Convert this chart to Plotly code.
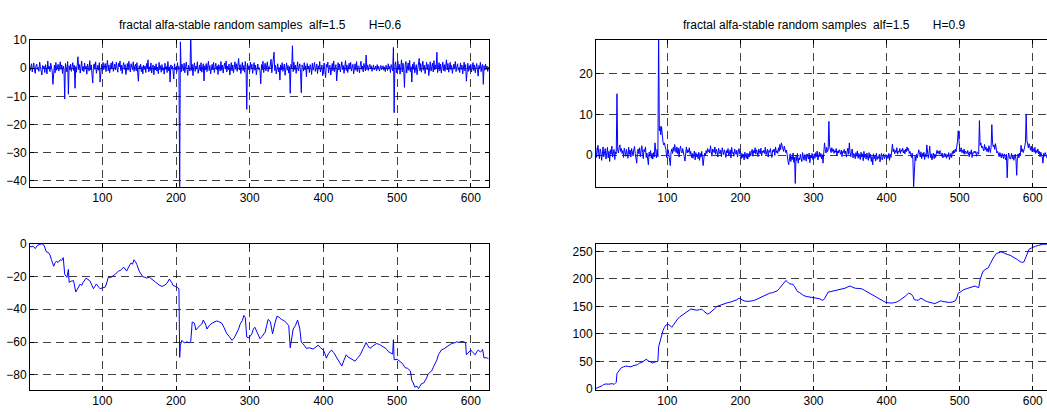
import plotly.graph_objects as go

W, H = 1047, 412

# ---- top-left: fractal alpha-stable samples, H=0.6 (sample values, x = 1..N)
tl_vals = [
    1.2, -0.8, 0.5, 1.6, -1.3, 0.2, 1.9, -0.6, -1.8, 0.9, 1.5, -0.4, 0.3, -1.1, 2.2, 0.6, -0.9, -2.4, 1.0, -0.2,
    0.8, -1.5, 1.3, -0.5, -2.0, 2.6, -0.3, 0.7, -1.2, 1.8, 0.2, -0.9, -5.7, 0.4, 1.1, -1.6, 2.1, -0.7, 0.3, 1.4,
    -1.0, 0.6, 2.3, -0.4, 1.2, -1.9, 0.8, -0.2, -10.9, 1.7, 0.5, -1.3, 2.4, -9.2, 0.9, -0.6, 1.5, -1.1, 0.3, 2.0,
    -0.8, 1.1, -7.1, 0.6, -1.4, 2.2, 4.1, -0.5, 1.3, -1.7, 0.4, 2.6, -0.9, 0.7, -1.2, 1.9, -0.3, 0.8, -2.1, 1.5,
    0.2, -1.0, 2.7, -0.6, 1.2, -1.5, -5.2, 0.9, 1.6, -0.4, 2.3, -1.8, 0.5, 1.1, -0.7, 2.0, -4.9, 0.3, 1.4, -0.8,
    2.1, -0.5, 0.9, 1.7, -1.2, 0.4, 2.8, -0.9, 1.2, -1.6, 0.6, 1.9, -0.3, 2.4, -1.1, 0.7, 1.5, -0.6, 2.2, 0.1,
    -1.4, 1.8, 0.5, 2.6, -0.8, 1.1, -1.9, 0.9, 2.0, -0.4, 1.3, -2.2, 0.6, 1.7, -0.7, 2.5, 0.2, -1.3, 1.6, 0.8,
    -0.5, 2.3, -1.1, 0.7, 1.4, -0.9, 2.0, -1.6, -4.6, 0.9, -0.3, 1.5, -1.2, 0.6, -2.0, 1.1, -0.4, 0.8, -1.5, 1.7,
    -0.2, 3.0, -1.3, 0.5, -0.8, 1.9, -1.7, 0.3, 1.2, -2.3, 0.7, -0.6, 1.6, -1.0, 0.4, -1.9, 2.1, -0.5, 0.9, -1.4,
    1.3, -0.7, 0.2, -2.1, 1.8, -0.4, 0.6, -1.5, 2.4, -0.9, 0.5, -4.9, 1.2, -0.3, 0.8, -1.1, -3.8, 1.6, -0.6, 0.4,
    -1.2, 2.0, -0.5, 0.7, -43.0, 9.4, -1.3, 1.5, 0.3, -0.9, 1.8, -1.6, 0.6, 2.2, -0.4, -2.5, 1.1, 0.2, -1.0, 12.0,
    -0.7, 1.4, -2.6, 0.5, 1.9, -1.1, 0.8, -0.3, 2.3, -1.8, 0.4, 1.2, -0.9, 2.0, -1.4, 0.6, 1.6, -4.5, 0.9, -0.5,
    1.7, -1.2, 0.3, 2.5, -0.8, 1.0, -2.0, 0.7, 1.4, -0.6, 2.1, -1.5, 0.2, 1.8, -0.4, 0.9, -2.2, 1.3, 0.5, -1.0,
    2.4, -0.7, 1.1, -1.7, 0.6, 1.9, -0.3, 2.6, -1.3, 0.8, -0.5, 1.5, -2.4, 0.4, 2.0, -0.9, 1.2, -1.6, 0.7, 2.3,
    -0.4, 1.6, -1.1, 2.8, 3.5, -0.6, 1.3, -1.9, 0.5, 2.1, -0.8, 1.0, -1.4, 2.4, 0.3, -14.6, 1.7, -0.5, 0.9, -1.2,
    2.2, -0.3, 1.4, -1.8, 0.6, 2.0, -0.7, 1.1, -2.3, 0.8, 1.5, -0.4, 0.2, -1.0, -5.5, 1.3, -0.6, 2.5, -1.5, 0.7,
    1.8, -0.9, 0.4, 2.3, -1.2, 0.6, -0.3, 1.7, 3.2, -1.6, 0.9, 2.4, 5.7, -0.8, 1.1, -2.0, 0.5, 1.6, -1.3, 0.3,
    -4.2, 1.2, -0.6, 2.0, -1.1, 0.8, 1.5, -2.5, 0.4, 1.9, -0.7, 1.0, -1.7, 0.6, -8.9, 1.4, -0.2, 8.0, -1.2, 2.2,
    -0.5, 1.1, -1.8, 0.7, 2.3, -0.9, 0.3, 1.6, -1.4, -8.7, 1.2, 0.5, -1.0, 2.0, -0.6, 0.9, -3.0, 1.7, -0.3, 0.8,
    -1.5, 1.3, 0.4, -2.2, 1.8, -0.7, 0.6, 2.1, -1.1, 0.2, 1.5, -1.9, 0.9, -0.4, 2.4, -1.3, 0.7, 1.2, -2.7, 0.5,
    1.9, -0.8, -3.3, 1.4, 0.3, 2.2, -1.6, 0.8, 1.1, -2.4, 0.5, 1.7, -0.9, 2.6, -1.2, 0.4, 1.3, -4.5, 0.7, 2.0,
    -0.6, 1.5, -1.3, 0.9, 2.3, -0.5, 1.0, -1.8, 0.6, 2.7, -0.8, 1.2, -1.5, 0.4, 1.8, -0.3, 2.1, -1.0, 0.7, 1.4,
    -2.0, 0.5, 1.6, -0.7, 2.4, -1.2, 0.9, 0.3, -1.6, 1.1, 2.5, -0.4, 0.8, -1.3, 1.7, 0.2, -0.9, 4.7, -0.5, 1.2,
    -0.8, 0.6, 1.4, -0.3, 0.9, -1.1, 0.5, 1.2, -0.6, 0.2, 0.8, -0.9, 1.3, -0.4, 0.7, -1.0, 0.4, 1.0, -0.5, 0.3,
    0.9, -0.7, 0.5, -1.2, 1.1, 0.2, -0.8, 1.6, -0.3, 0.7, -1.5, 1.3, 0.4, -0.9, 7.4, -15.8, 1.2, 2.3, -1.6, 0.8,
    2.6, -0.5, 1.4, -2.1, 0.7, 3.0, -1.3, 1.8, -0.6, -6.8, 1.2, 2.4, -1.7, 0.5, 1.9, -0.8, 2.8, -1.2, 0.6, -4.9,
    1.5, -0.4, 2.2, -1.6, 0.9, 1.3, -2.3, 0.4, 2.0, 3.5, -0.9, 1.7, -1.4, 0.6, 2.5, -0.7, 1.1, -1.9, 0.8, 2.1,
    -0.5, 1.4, -2.6, 0.9, 2.3, -1.0, 0.5, 1.8, -1.3, 2.7, -0.6, 1.2, -0.2, 5.7, -1.5, 0.8, 2.0, -0.9, 1.5, -1.7,
    0.6, 2.2, -0.8, 1.3, -1.1, 0.4, 3.0, -0.6, 1.7, -1.4, 0.9, 2.1, -0.5, 1.0, -1.8, 0.7, 1.5, -0.3, 2.4, -1.2,
    0.8, 1.6, -0.7, 0.3, -1.5, 1.9, -0.4, 1.1, -2.0, 0.6, 2.2, -0.9, 1.3, -4.6, 0.5, 1.8, -1.1, 0.9, -0.6, 1.4,
    -1.3, 0.7, 2.0, -0.8, 1.2, -1.6, 0.4, 1.7, -0.5, -2.8, 1.0, -0.3, 2.1, -1.2, 0.6, 1.4, -5.7, 0.9, -0.7, 1.5,
    -0.4, 0.8, -1.1, 0.5,
]

# ---- top-right: fractal alpha-stable samples, H=0.9
tr_vals = [
    0.5, 1.8, -0.6, 1.2, 2.4, 0.3, -0.9, 1.5, 0.8, -1.3, 1.1, 2.0, -0.4, 0.7, 1.6, -1.0, 0.4, 1.9, -0.7, 0.9,
    -1.6, 1.3, 0.2, 2.2, -0.5, 0.6, 1.4, -1.1, 0.8, 0.3, 15.1, 1.2, 0.5, 1.8, 2.5, 0.9, 1.6, 0.4, 1.1, -0.6,
    1.7, 0.8, -0.3, 1.4, 0.6, -0.8, 1.9, 0.2, 1.2, -0.5, 1.6, 0.7, -0.2, 1.3, 2.1, 0.4, -0.7, -2.0, 0.9, 1.5,
    0.3, 1.8, -0.4, 1.0, 2.3, 0.6, -0.9, 1.4, 0.8, 2.0, -0.6, 0.5, -1.2, -2.4, 0.7, -0.3, 1.1, -0.8, 0.4, -1.0,
    0.6, -0.5, 3.0, 0.2, -0.7, 1.4, -0.4, 30.0, 6.0, 7.1, 5.0, 7.0, 4.0, 3.2, 2.5, 3.0, 2.0, 1.4, -0.6, 0.8,
    1.3, 0.2, -1.1, -2.6, 0.7, 1.5, 0.4, 1.9, 0.9, 2.6, 1.2, 0.6, 2.0, 0.3, 1.7, -0.5, 1.4, 2.2, 0.8, 0.5,
    1.6, 0.9, -0.4, -1.5, 1.2, 2.0, 0.5, 1.3, 0.7, 1.8, 0.2, 0.9, -0.6, 0.4, -0.8, 0.3, 1.0, -1.2, 0.6, -0.4,
    0.2, -0.9, 0.7, -1.3, 0.4, -0.5, 0.9, -1.0, -2.6, -0.7, 0.5, -0.2, 1.1, 0.4, 1.6, 0.8, 1.3, 0.5, 2.3, 0.9,
    -0.3, 1.5, 1.0, 0.6, 2.0, 0.2, 1.4, 0.8, -0.5, 1.7, 0.9, 0.3, 1.2, -0.4, 1.8, 0.6, 0.1, 1.3, 0.7, -0.6,
    1.1, 0.5, 1.6, -0.2, 0.8, 1.3, -0.7, 1.9, 0.4, 0.7, -0.3, 1.5, 0.9, 0.2, 1.2, -0.5, 0.8, 1.6, 0.3, 1.0,
    -0.9, 0.4, -0.6, 0.2, -1.2, 0.7, -0.4, -0.8, 0.5, -1.0, 0.3, -0.5, 0.9, -0.2, 0.6, 1.4, -0.3, 1.1, 0.5, 1.8,
    0.2, 1.3, 0.7, -0.4, 1.5, 0.9, 0.3, 1.7, -0.2, 1.0, 0.6, 1.2, 0.4, 1.9, 0.1, 0.8, 1.4, -0.5, 1.1, 0.7,
    1.6, 0.3, -0.6, 1.2, 0.8, 1.5, -0.1, 2.0, 0.6, 1.1, 0.4, 1.8, 0.9, 2.6, 1.3, 3.0, 2.4, 1.7, 0.9, 2.2,
    1.5, 0.6, 1.2, -0.8, -1.5, -2.4, -0.9, 0.3, -1.6, -0.4, -1.1, 0.5, -1.8, -0.6, -7.0, -0.3, -1.4, 0.4, -2.0, -0.7,
    -1.2, 0.2, -0.9, -1.6, 0.6, -0.4, -1.3, 0.1, -0.8, -1.5, 0.3, -0.6, -1.0, 0.5, -1.9, -0.2, -0.7, 0.4, -1.1, -0.5,
    0.3, -0.8, 0.6, -0.4, 1.0, -1.2, 0.2, 0.7, -0.5, 0.4, -0.9, 0.1, -2.0, 0.6, 3.0, 1.4, 0.5, 1.9, 0.8, 1.2,
    8.3, 2.1, 1.3, 0.6, 1.8, 0.9, 1.5, 0.4, 1.1, 0.7, 1.6, -0.2, 1.0, 0.5, 1.3, 0.8, 0.2, 1.2, -0.4, 0.9,
    0.6, 1.4, 0.3, 1.0, -0.5, 0.8, 1.7, 0.2, 3.0, 0.6, -0.4, 0.9, 1.5, -0.7, 0.4, 0.1, -0.9, 0.6, -0.3, 1.0,
    -0.8, 0.4, -0.2, -1.1, 0.7, -0.5, 0.3, -1.4, 0.9, -0.6, 0.2, -1.0, 0.5, -0.3, -1.3, 0.6, -0.8, 0.2, -1.6, -0.4,
    -2.4, 0.3, -0.9, -0.2, -1.5, 0.5, -1.1, -0.4, -0.8, 0.2, -1.7, -0.3, 0.4, -1.2, -0.6, 0.3, -0.9, -0.5, 0.1, -1.0,
    -0.3, -0.8, 0.4, -1.3, 0.2, -0.6, 0.5, 2.7, 0.8, 1.5, 0.3, 1.1, 0.6, 1.8, 0.2, 1.0, 0.7, 1.6, 0.4, 1.3,
    0.9, 1.7, 0.5, 1.2, 0.3, 1.5, 0.8, 2.0, 1.1, 1.6, 0.4, 0.9, 0.2, -0.6, 0.5, -1.2, -8.0, -0.8, -0.3, -1.4,
    0.2, -0.7, 0.9, 1.3, 0.6, -0.5, 0.8, -0.9, 0.4, -0.4, 0.7, -1.1, 0.3, -0.5, 2.5, 0.6, -0.8, 0.4, 2.2, -0.6,
    0.3, -1.2, -0.4, 0.5, -0.9, 0.2, -0.6, 0.8, 1.2, 0.4, 0.9, 0.2, 1.1, 0.6, -0.3, 0.5, -0.7, -0.2, 0.4, -0.5,
    0.3, -0.8, 0.1, -0.4, 0.6, -1.1, 0.2, 0.4, -0.6, 0.9, 0.3, 1.2, 0.5, 1.5, 0.8, 2.0, 3.4, 6.0, 2.6, 1.4,
    0.9, 1.8, 0.6, 1.2, 0.4, 1.5, 0.2, 1.0, 0.7, 0.3, 1.1, 0.5, -0.4, 0.8, 0.2, 1.3, -0.6, 0.6, 0.4, 1.0,
    0.5, 0.9, -0.3, 0.7, 0.6, 0.2, 8.5, 2.4, 3.0, 1.8, 2.2, 1.5, 1.0, 2.6, 1.3, 2.0, 0.9, 1.6, 0.7, 2.3,
    1.2, 0.6, 1.9, 7.5, 3.0, 2.0, 2.5, 1.4, 2.8, 1.1, 0.5, 0.9, 0.2, -0.4, 0.6, 0.1, -0.7, 0.4, -0.2, -0.9,
    0.3, -0.6, -1.2, 0.2, -5.6, -0.8, 0.5, -0.3, -1.0, -0.5, 0.4, -0.9, -0.2, -1.3, -0.6, 0.2, -1.1, -5.0, -0.4, 0.3,
    -0.7, 0.5, -0.2, 2.4, 0.8, 1.5, 0.6, 1.2, 2.0, 3.2, 10.0, 3.6, 2.5, 1.8, 2.8, 1.6, 1.2, 2.2, 0.9, 1.8,
    1.3, 0.7, 1.9, 0.4, 1.1, 0.6, 1.5, 0.3, 0.9, -0.4, 0.7, 0.2, -0.5, -2.0, 0.4, -0.3, 0.6, 0.1, -0.6, 0.3,
    0.5, -0.2, 0.4, 0.1,
]

# ---- bottom-left: cumulative path (H=0.6), read at sample positions
bl_x = [1, 3, 6, 9, 12, 15, 18, 21, 24, 27, 29, 31, 34, 36, 38, 40, 43, 45, 47, 49, 52, 54, 55, 58, 61, 64, 67, 70,
        72, 74, 78, 80, 83, 85, 88, 90, 92, 95, 97, 100, 104, 106, 108, 112, 115, 118, 122, 125, 129, 131, 133, 136,
        139, 141, 143, 145, 147, 150, 153, 155, 158, 160, 164, 167, 170, 174, 177, 181, 185, 188, 191, 194, 196, 200,
        203, 204, 205, 206, 208, 211, 215, 218, 220, 222, 225, 227, 230, 232, 235, 237, 240, 242, 245, 249, 252, 255,
        258, 262, 265, 269, 272, 276, 279, 282, 285, 287, 290, 292, 294, 296, 299, 303, 305, 307, 310, 314, 317, 321,
        323, 325, 328, 331, 334, 337, 340, 343, 347, 350, 353, 355, 357, 359, 362, 365, 368, 370, 374, 377, 381, 386,
        390, 393, 396, 400, 402, 404, 407, 411, 414, 418, 421, 425, 428, 431, 433, 436, 440, 443, 446, 450, 454, 458,
        460, 463, 467, 472, 476, 481, 485, 488, 491, 494, 495, 496, 500, 504, 507, 511, 514, 518, 520, 522, 524, 527,
        529, 531, 533, 536, 538, 540, 542, 545, 547, 549, 551, 554, 556, 558, 560, 564, 567, 571, 574, 578, 581, 584,
        588, 591, 593, 594, 597, 600, 603, 606, 608, 610, 613, 615, 616, 618, 621, 624]
bl_y = [-1, -2, -1.5, -3, -1, -0.5, 0, -1, -4.9, -5.5, -6.9, -9.8, -13.8, -11.5, -10.8, -11.5, -9.8, -10.2, -8.5, -18.7,
        -20.6, -15.7, -23.6, -22.8, -22.6, -29.5, -26.5, -24.6, -25.5, -23.6, -21, -21.5, -22.6, -24.5, -27.5, -26,
        -24.6, -26.5, -27.5, -27, -26.5, -24, -20.6, -20.5, -19.7, -18.5, -16.7, -16.2, -14.3, -15.5, -16.7, -14,
        -11.8, -12.5, -9.8, -11, -12.8, -16.7, -18.5, -20.2, -20.5, -21, -20.5, -21.6, -23, -24.6, -25.2, -26.1,
        -25.2, -24, -21.6, -23.5, -25.5, -26.2, -26.9, -27.5, -69.4, -62, -59, -60.5, -59.9, -60.5, -59.6, -47.8,
        -48.5, -52.7, -51, -50.1, -49, -46.6, -49, -52.1, -50, -48.5, -48, -47.2, -47.5, -48.5, -51, -55, -56.5, -59,
        -57.5, -55, -52, -49.1, -47, -43.8, -45, -57, -57.5, -55, -52, -51, -54, -58, -56.5, -54, -50, -46.2, -47.5,
        -55, -49, -44.2, -45, -46.2, -47, -48.2, -50, -63.5, -57, -52.1, -50, -46.6, -52, -60, -62, -63.9, -63.5,
        -64.3, -63, -61.9, -63.5, -64.9, -67, -69.8, -67, -64.9, -66.5, -69.8, -72, -74.7, -71, -67.8, -69, -69.8,
        -70.5, -71.7, -70, -67.8, -64, -60.3, -62, -63.9, -62.5, -60.9, -61.5, -62.9, -64, -65.8, -66.5, -67.4, -58.6,
        -70.8, -70.5, -71.7, -73, -75.7, -76, -77.6, -83.5, -85, -87.5, -87, -88.4, -87, -85.5, -85, -83.5, -82,
        -79.6, -78.5, -77.6, -75.5, -73.7, -71, -67.8, -66.5, -64.9, -64, -62.9, -61.5, -60.9, -60.5, -59.9, -60.2,
        -59.6, -60, -60.5, -67.8, -66, -64.9, -66.5, -67.8, -66, -64.9, -66, -65.4, -64.5, -69.8, -69.5, -70.2]

# ---- bottom-right: cumulative path (H=0.9)
br_x = [1, 3, 5, 8, 11, 13, 16, 19, 22, 25, 27, 29, 30, 31, 34, 37, 40, 43, 46, 50, 53, 56, 59, 62, 65, 68, 71, 74,
        77, 80, 83, 85, 87, 88, 89, 91, 92, 93, 94, 96, 98, 100, 103, 106, 109, 111, 114, 117, 120, 123, 126, 129,
        132, 135, 138, 140, 144, 147, 150, 153, 155, 158, 161, 164, 168, 172, 176, 180, 183, 187, 191, 195, 198, 202,
        205, 209, 212, 216, 220, 224, 228, 231, 234, 237, 240, 244, 247, 250, 253, 256, 258, 260, 262, 264, 267, 270,
        272, 274, 276, 278, 281, 286, 290, 295, 300, 304, 308, 311, 313, 315, 320, 324, 327, 332, 336, 340, 343, 346,
        350, 353, 357, 362, 366, 370, 374, 378, 382, 386, 391, 395, 399, 403, 407, 411, 414, 418, 423, 426, 430, 434,
        436, 438, 441, 443, 447, 450, 453, 456, 459, 463, 466, 470, 474, 477, 480, 483, 486, 490, 494, 496, 498, 502,
        505, 509, 512, 516, 521, 524, 526, 528, 530, 532, 536, 539, 542, 544, 547, 550, 553, 556, 559, 562, 566, 569,
        572, 576, 579, 583, 586, 588, 590, 592, 595, 598, 601, 604, 608, 611, 614, 619, 624]
br_y = [0, 1, 2.5, 3.5, 6, 8, 9, 8.5, 9, 9.5, 8, 10, 12, 28, 33, 38.6, 40, 41.5, 41, 40, 42, 43, 44, 47, 48, 51, 54, 51,
        49, 47, 49, 50, 50, 76.6, 82, 88, 95, 100, 106, 112, 116, 117, 116, 112, 118, 122, 127, 131, 134, 136, 139, 142,
        145, 144.5, 143, 143, 144, 145, 141, 137, 136, 138, 141, 145, 150, 152, 154, 155.5, 157, 158, 160, 162, 165,
        162, 160, 159, 159, 160, 161.5, 164, 167, 168, 170, 172, 174, 175, 176, 178, 182, 187, 191, 194, 197, 195, 191,
        190.5, 190, 186, 182, 177, 175, 170, 168, 167, 166.5, 166, 164, 162, 161, 164, 176, 177, 178, 179, 180, 181.5,
        183, 185, 187, 185, 183, 182.5, 182, 179, 176, 173, 170, 166, 162, 159, 157, 156.5, 156, 157, 158, 161, 165,
        169, 174, 172, 168, 162, 161.5, 161, 165, 162, 160, 158.5, 157, 156, 155, 157, 160, 159, 158, 157.5, 157, 158,
        160, 165, 174, 177, 180, 182, 183, 185, 187, 185, 184, 199, 207, 214, 218, 220, 228, 234, 240, 246, 248, 249,
        248, 246, 244, 243, 241, 238, 235, 231, 230, 231, 238, 246, 254, 256, 258, 259.5, 261, 262, 263, 263, 264]

title_left = "fractal alfa-stable random samples\u00a0\u00a0alf=1.5" + "\u00a0" * 7 + "H=0.6"
title_right = "fractal alfa-stable random samples\u00a0\u00a0alf=1.5" + "\u00a0" * 7 + "H=0.9"

x_ticks = [100, 200, 300, 400, 500, 600]
tl_yticks = [-40, -30, -20, -10, 0, 10]
tr_yticks = [0, 10, 20]
bl_yticks = [-80, -60, -40, -20, 0]
br_yticks = [0, 50, 100, 150, 200, 250]

FONT = "Arial, 'Liberation Sans', sans-serif"
LINE = dict(color="#0000ff", width=1)

fig = go.Figure()
fig.add_trace(go.Scatter(x=list(range(1, len(tl_vals) + 1)), y=tl_vals, mode="lines", line=LINE,
                         xaxis="x", yaxis="y"))
fig.add_trace(go.Scatter(x=list(range(1, len(tr_vals) + 1)), y=tr_vals, mode="lines", line=LINE,
                         xaxis="x2", yaxis="y2"))
fig.add_trace(go.Scatter(x=bl_x, y=bl_y, mode="lines", line=LINE, xaxis="x3", yaxis="y3"))
fig.add_trace(go.Scatter(x=br_x, y=br_y, mode="lines", line=LINE, xaxis="x4", yaxis="y4"))


def px_x(a, b):
    return [a / W, min(b / W, 1.0)]


def px_y(top, bottom):
    return [(H - bottom) / H, (H - top) / H]


def ax(domain, rng, tickvals, anchor, mirror=True):
    return dict(
        domain=domain, range=rng, tickvals=tickvals, anchor=anchor,
        showline=True, linecolor="black", linewidth=1, mirror=("ticks" if mirror else False),
        ticks="inside", ticklen=4, tickcolor="black", tickwidth=1,
        showgrid=True, gridcolor="rgba(0,0,0,0.75)", gridwidth=1, griddash="8px,5px",
        zeroline=False, tickfont=dict(family=FONT, size=12, color="black"),
        fixedrange=True,
    )


LX = px_x(30, 489)
RX = px_x(596, 1047)
TY = px_y(34, 186)
BY = px_y(245, 396)

fig.update_layout(
    width=W, height=H, margin=dict(l=0, r=0, t=0, b=0),
    paper_bgcolor="white", plot_bgcolor="white", showlegend=False,
    xaxis=ax(LX, [1.9, 624.7], x_ticks, "y"),
    yaxis=ax(TY, [-42.06, 10.1], tl_yticks, "x"),
    xaxis2=ax(RX, [2.3, 619.5], x_ticks, "y2"),
    yaxis2=ax(TY, [-7.8, 28.4], tr_yticks, "x2", mirror=False),
    xaxis3=ax(LX, [1.9, 624.7], x_ticks, "y3"),
    yaxis3=ax(BY, [-89, 0], bl_yticks, "x3"),
    xaxis4=ax(RX, [2.3, 619.5], x_ticks, "y4"),
    yaxis4=ax(BY, [-1.2, 264], br_yticks, "x4", mirror=False),
    annotations=[
        dict(text=title_left, x=259.5 / W, y=(H - 18.5) / H, xref="paper", yref="paper",
             xanchor="center", yanchor="middle", showarrow=False,
             font=dict(family=FONT, size=12, color="black")),
        dict(text=title_right, x=824 / W, y=(H - 18.5) / H, xref="paper", yref="paper",
             xanchor="center", yanchor="middle", showarrow=False,
             font=dict(family=FONT, size=12, color="black")),
    ],
)

fig.write_html("out.html")
